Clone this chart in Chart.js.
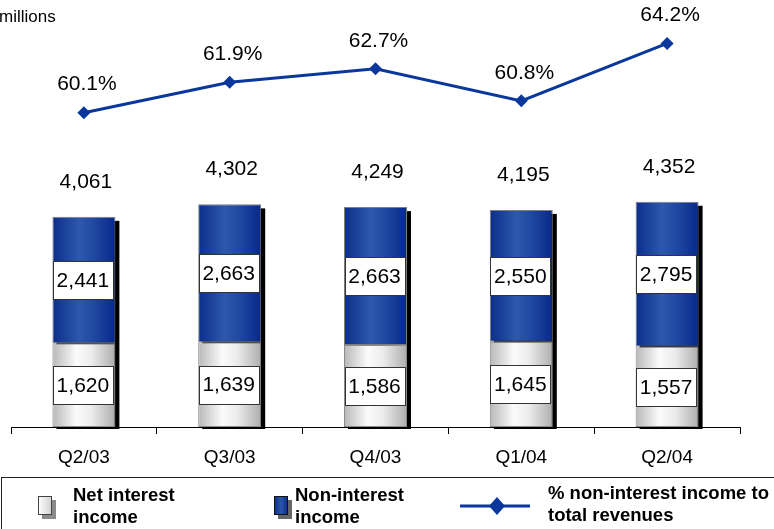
<!DOCTYPE html>
<html>
<head>
<meta charset="utf-8">
<script src="https://cdn.jsdelivr.net/npm/chart.js@4/dist/chart.umd.min.js"></script>
<style>
  html, body { margin: 0; padding: 0; background: #fff; }
  #wrap { width: 774px; height: 529px; position: relative; }
</style>
</head>
<body>
<div id="wrap"><canvas id="c" width="774" height="529"></canvas></div>
<script>
// Quarterly revenue split (millions) and fee share
const quarters = ['Q2/03', 'Q3/03', 'Q4/03', 'Q1/04', 'Q2/04'];
const netInterestIncome = [1620, 1639, 1586, 1645, 1557];
const nonInterestIncome = [2441, 2663, 2663, 2550, 2795];
const nonInterestShare = [60.1, 61.9, 62.7, 60.8, 64.2];

const FONT = '"Liberation Sans", Arial, Helvetica, sans-serif';
const BAR_PCT = 0.432;
const LINE_BLUE = '#0a379c';

function fmt(n) {
  return n.toLocaleString('en-US');
}

// Horizontal cylinder-like shading for each bar, built from the x scale
function barGradient(stops, fallback) {
  return function (ctx) {
    const chart = ctx.chart;
    const xs = chart.scales && chart.scales.x;
    if (!xs || ctx.dataIndex === undefined || !isFinite(xs.width)) return fallback;
    const cx = xs.getPixelForValue(ctx.dataIndex);
    const w = (xs.width / quarters.length) * BAR_PCT;
    const g = chart.ctx.createLinearGradient(cx - w / 2, 0, cx + w / 2, 0);
    stops.forEach(s => g.addColorStop(s[0], s[1]));
    return g;
  };
}

const greyStops = [[0, '#b8b8b8'], [0.38, '#fbfbfb'], [0.62, '#ececec'], [1, '#adadad']];
const blueStops = [[0, '#0b2e8c'], [0.42, '#2d58ac'], [0.65, '#2049a2'], [1, '#072889']];

// Drop shadow behind every stacked column
const shadowPlugin = {
  id: 'barShadow',
  beforeDatasetsDraw(chart) {
    const ctx = chart.ctx;
    const m0 = chart.getDatasetMeta(0), m1 = chart.getDatasetMeta(1);
    ctx.save();
    ctx.fillStyle = '#000';
    m0.data.forEach((el0, i) => {
      const el1 = m1.data[i];
      const top = el1.y, base = el0.base, w = el0.width;
      ctx.fillRect(el0.x - w / 2 + 4, top + 4, w, base - top - 2);
    });
    ctx.restore();
  }
};

// Value boxes, column totals and percentage labels
const labelPlugin = {
  id: 'valueLabels',
  afterDatasetsDraw(chart) {
    const ctx = chart.ctx;
    ctx.save();
    ctx.font = '21px ' + FONT;
    ctx.textAlign = 'center';
    ctx.textBaseline = 'middle';
    [0, 1].forEach(di => {
      const meta = chart.getDatasetMeta(di);
      const vals = chart.data.datasets[di].data;
      meta.data.forEach((el, i) => {
        const cy = (el.y + el.base) / 2;
        const bw = 60, bh = 38;
        const bx = Math.round(el.x - 1 - bw / 2) + 0.5;
        const by = Math.round(cy - bh / 2) + 0.5;
        ctx.fillStyle = '#fff';
        ctx.fillRect(bx, by, bw, bh);
        ctx.strokeStyle = '#333';
        ctx.lineWidth = 1;
        ctx.strokeRect(bx, by, bw, bh);
        ctx.fillStyle = '#000';
        ctx.fillText(fmt(vals[i]), el.x - 1, cy + 1);
      });
    });
    // totals above the columns
    const top = chart.getDatasetMeta(1);
    top.data.forEach((el, i) => {
      const total = netInterestIncome[i] + nonInterestIncome[i];
      ctx.fillStyle = '#000';
      ctx.fillText(fmt(total), el.x + 2, el.y - 35);
    });
    // percentage labels above the line markers
    const lm = chart.getDatasetMeta(2);
    lm.data.forEach((pt, i) => {
      ctx.fillText(nonInterestShare[i].toFixed(1) + '%', pt.x + 3, pt.y - 28);
    });
    ctx.restore();
  }
};

// Unit caption and boxed legend
const framePlugin = {
  id: 'frame',
  afterDraw(chart) {
    const ctx = chart.ctx;
    ctx.save();
    ctx.fillStyle = '#000';
    ctx.font = '17px ' + FONT;
    ctx.textAlign = 'left';
    ctx.textBaseline = 'alphabetic';
    ctx.fillText('millions', -1, 22);

    // legend frame
    ctx.strokeStyle = '#222';
    ctx.lineWidth = 1;
    ctx.strokeRect(1.5, 477.5, 800, 100);

    // swatch: net interest income
    ctx.fillStyle = '#8a8a8a';
    ctx.fillRect(42, 500, 14, 19);
    let g = ctx.createLinearGradient(38, 0, 52, 0);
    g.addColorStop(0, '#ffffff'); g.addColorStop(1, '#d0d0d0');
    ctx.fillStyle = g;
    ctx.fillRect(38, 496, 14, 19);
    ctx.strokeStyle = '#444';
    ctx.strokeRect(38.5, 496.5, 13, 18);

    // swatch: non-interest income
    ctx.fillStyle = '#666';
    ctx.fillRect(278, 500, 14, 19);
    g = ctx.createLinearGradient(274, 0, 288, 0);
    g.addColorStop(0, '#0a2c88'); g.addColorStop(0.5, '#2b56aa'); g.addColorStop(1, '#082a88');
    ctx.fillStyle = g;
    ctx.fillRect(274, 496, 14, 19);
    ctx.strokeStyle = '#111';
    ctx.strokeRect(274.5, 496.5, 13, 18);

    // line swatch with diamond
    ctx.strokeStyle = LINE_BLUE;
    ctx.lineWidth = 3;
    ctx.beginPath();
    ctx.moveTo(460, 506); ctx.lineTo(530, 506);
    ctx.stroke();
    ctx.fillStyle = LINE_BLUE;
    ctx.beginPath();
    ctx.moveTo(497, 497); ctx.lineTo(505, 506); ctx.lineTo(497, 515); ctx.lineTo(489, 506);
    ctx.closePath(); ctx.fill();

    // legend text
    const legendText = [
      [73, 496, 'Net interest'], [73, 518, 'income'],
      [295, 496, 'Non-interest'], [295, 518, 'income'],
      [548, 494, '% non-interest income to'], [548, 516, 'total revenues']
    ];
    ctx.fillStyle = '#000';
    ctx.font = 'bold 18.5px ' + FONT;
    ctx.textBaseline = 'middle';
    legendText.forEach(([x, y, t]) => ctx.fillText(t, x, y));
    ctx.restore();
  }
};

new Chart(document.getElementById('c'), {
  data: {
    labels: quarters,
    datasets: [
      {
        type: 'bar',
        label: 'Net interest income',
        data: netInterestIncome,
        stack: 's',
        backgroundColor: barGradient(greyStops, '#dddddd'),
        borderColor: '#8c8c8c',
        borderWidth: 1,
        borderSkipped: false,
        barPercentage: BAR_PCT,
        categoryPercentage: 1,
        yAxisID: 'y',
        order: 2
      },
      {
        type: 'bar',
        label: 'Non-interest income',
        data: nonInterestIncome,
        stack: 's',
        backgroundColor: barGradient(blueStops, '#1a44a0'),
        borderColor: '#7d7d7d',
        borderWidth: 1,
        borderSkipped: false,
        barPercentage: BAR_PCT,
        categoryPercentage: 1,
        yAxisID: 'y',
        order: 2
      },
      {
        type: 'line',
        label: '% non-interest income to total revenues',
        data: nonInterestShare,
        yAxisID: 'y2',
        borderColor: LINE_BLUE,
        backgroundColor: LINE_BLUE,
        borderWidth: 3,
        pointStyle: 'rectRot',
        pointRadius: 6.5,
        pointBackgroundColor: LINE_BLUE,
        pointBorderColor: LINE_BLUE,
        pointBorderWidth: 0,
        tension: 0,
        fill: false,
        order: 1
      }
    ]
  },
  options: {
    responsive: false,
    animation: false,
    devicePixelRatio: 1,
    layout: { padding: { left: 11, right: 34, top: 13, bottom: 57 } },
    plugins: { legend: { display: false }, tooltip: { enabled: false } },
    scales: {
      x: {
        stacked: true,
        offset: true,
        z: 1,
        grid: {
          display: true,
          offset: true,
          drawOnChartArea: false,
          drawTicks: true,
          tickLength: 7,
          color: '#000',
          lineWidth: 1
        },
        border: { display: true, color: '#000', width: 1 },
        ticks: { color: '#000', font: { family: FONT, size: 19 }, padding: 12 },
        afterFit(scale) { scale.height = 45; }
      },
      y: { stacked: true, display: false, min: 0, max: 8000 },
      y2: { display: false, min: 41.5, max: 66 }
    }
  },
  plugins: [shadowPlugin, labelPlugin, framePlugin]
});
</script>
</body>
</html>
